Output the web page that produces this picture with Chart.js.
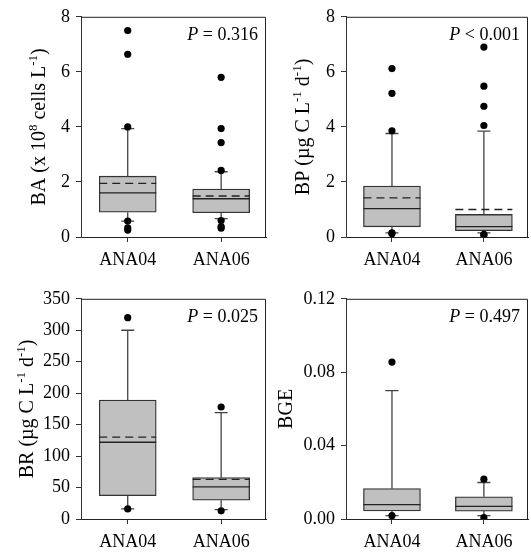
<!DOCTYPE html>
<html>
<head>
<meta charset="utf-8">
<script src="https://cdn.jsdelivr.net/npm/chart.js@4.4.0/dist/chart.umd.min.js"></script>
<style>
  html, body { margin: 0; padding: 0; background: #fff; overflow: hidden; }
  body { width: 531px; height: 555px; position: relative; }
  canvas { position: absolute; }
</style>
</head>
<body>
<canvas id="baChart" width="270" height="274" style="left:0;top:0"></canvas>
<canvas id="bpChart" width="264" height="274" style="left:268px;top:0"></canvas>
<canvas id="brChart" width="270" height="274" style="left:0;top:282px"></canvas>
<canvas id="bgeChart" width="264" height="274" style="left:268px;top:282px"></canvas>
<script>
const grupos = ['ANA04', 'ANA06']

// BA (x 10^8 cells L-1)
const baQ1 = [0.9, 0.88]
const baMediana = [1.6, 1.39]
const baMedia = [1.95, 1.49]
const baQ3 = [2.21, 1.74]
const baMin = [0.58, 0.67]
const baMax = [3.94, 2.37]
const baOutliers = [[7.5, 6.64, 4.0, 0.58, 0.33, 0.25], [5.8, 3.94, 3.43, 2.42, 0.6, 0.38, 0.32]]
const baTicks = [0, 2, 4, 6, 8]

// BP (ug C L-1 d-1)
const bpQ1 = [0.37, 0.23]
const bpMediana = [1.03, 0.38]
const bpMedia = [1.42, 1.0]
const bpQ3 = [1.85, 0.82]
const bpMin = [0.15, 0.15]
const bpMax = [3.76, 3.85]
const bpOutliers = [[6.12, 5.22, 3.86, 0.15, 0.12], [6.9, 5.48, 4.75, 4.05, 0.1, 0.07]]
const bpTicks = [0, 2, 4, 6, 8]

// BR (ug C L-1 d-1)
const brQ1 = [37, 30]
const brMediana = [122, 51]
const brMedia = [130, 63]
const brQ3 = [189, 66]
const brMin = [16, 15]
const brMax = [300, 169]
const brOutliers = [[320, 16], [178, 13]]
const brTicks = [0, 50, 100, 150, 200, 250, 300, 350]

// BGE
const bgeQ1 = [0.0044, 0.0043]
const bgeMediana = [0.0078, 0.0069]
const bgeMedia = [null, null]
const bgeQ3 = [0.0166, 0.0121]
const bgeMin = [0.0018, 0.0018]
const bgeMax = [0.07, 0.0199]
const bgeOutliers = [[0.0855, 0.0018], [0.0217, 0.0008]]
const bgeTicks = [0, 0.04, 0.08, 0.12]
const bgeTickLabels = ['0.00', '0.04', '0.08', '0.12']

const FONTE = "'Liberation Serif', 'Times New Roman', serif"
Chart.defaults.font.family = FONTE
Chart.defaults.font.size = 18
Chart.defaults.color = '#000'

function textoRico(ctx, partes, x, y, tam, alinhar) {
  const fonte = k => k === 's' ? Math.round(tam * 0.65) + 'px ' + FONTE
    : (k === 'i' ? 'italic ' : '') + tam + 'px ' + FONTE
  let total = 0
  partes.forEach(([t, k]) => { ctx.font = fonte(k); total += ctx.measureText(t).width })
  let cx = alinhar === 'right' ? x - total : x - total / 2
  ctx.textAlign = 'left'
  ctx.textBaseline = 'alphabetic'
  partes.forEach(([t, k]) => {
    ctx.font = fonte(k)
    ctx.fillText(t, cx, k === 's' ? y - tam * 0.4 : y)
    cx += ctx.measureText(t).width
  })
}

function criarPainel(id, p) {
  const caixas = p.q1.map((q, i) => ({ x: i, y: [q, p.q3[i]] }))
  const pontos = []
  p.outliers.forEach((lista, i) => lista.forEach(v => pontos.push({ x: i, y: v })))
  const larg = 57

  const desenhoCaixa = {
    id: 'desenhoCaixa',
    beforeDatasetsDraw(chart) {
      const { ctx, scales: { x, y } } = chart
      ctx.save()
      ctx.strokeStyle = '#444'
      ctx.lineWidth = 1.3
      p.q1.forEach((q, i) => {
        const px = x.getPixelForValue(i)
        ctx.beginPath()
        ctx.moveTo(px, y.getPixelForValue(p.q3[i]))
        ctx.lineTo(px, y.getPixelForValue(p.max[i]))
        ctx.moveTo(px - 6.5, y.getPixelForValue(p.max[i]))
        ctx.lineTo(px + 6.5, y.getPixelForValue(p.max[i]))
        ctx.moveTo(px, y.getPixelForValue(q))
        ctx.lineTo(px, y.getPixelForValue(p.min[i]))
        ctx.moveTo(px - 6.5, y.getPixelForValue(p.min[i]))
        ctx.lineTo(px + 6.5, y.getPixelForValue(p.min[i]))
        ctx.stroke()
      })
      ctx.restore()
    },
    afterDatasetDraw(chart, args) {
      if (args.meta.type !== 'bar') return
      const { ctx, scales: { x, y } } = chart
      ctx.save()
      ctx.strokeStyle = '#222'
      ctx.lineWidth = 1.3
      p.mediana.forEach((m, i) => {
        const px = x.getPixelForValue(i)
        const py = y.getPixelForValue(m)
        ctx.setLineDash([])
        ctx.beginPath()
        ctx.moveTo(px - larg / 2, py)
        ctx.lineTo(px + larg / 2, py)
        ctx.stroke()
        if (p.media[i] !== null) {
          const pm = y.getPixelForValue(p.media[i])
          ctx.setLineDash([8, 5])
          ctx.beginPath()
          ctx.moveTo(px - larg / 2, pm)
          ctx.lineTo(px + larg / 2, pm)
          ctx.stroke()
        }
      })
      ctx.restore()
    },
    afterDraw(chart) {
      const { ctx, chartArea: a } = chart
      ctx.save()
      ctx.strokeStyle = '#222'
      ctx.lineWidth = 1
      ctx.beginPath()
      ctx.moveTo(a.left, a.top + 0.5)
      ctx.lineTo(a.right - 0.5, a.top + 0.5)
      ctx.lineTo(a.right - 0.5, a.bottom)
      ctx.stroke()
      ctx.fillStyle = '#000'
      textoRico(ctx, p.pTexto, a.right - 8, a.top + 23, 18, 'right')
      ctx.translate(a.left + p.tituloX, (a.top + a.bottom) / 2)
      ctx.rotate(-Math.PI / 2)
      textoRico(ctx, p.titulo, 0, 0, 20, 'center')
      ctx.restore()
    }
  }

  return new Chart(document.getElementById(id), {
    type: 'bar',
    data: {
      datasets: [
        {
          type: 'bar',
          data: caixas,
          backgroundColor: '#c0c0c0',
          borderColor: '#333',
          borderWidth: 1.3,
          borderSkipped: false,
          barThickness: larg,
          order: 2
        },
        {
          type: 'line',
          data: pontos,
          showLine: false,
          pointRadius: 3.6,
          pointBackgroundColor: '#000',
          pointBorderWidth: 0,
          order: 1
        }
      ]
    },
    options: {
      responsive: false,
      animation: false,
      layout: { padding: { top: 14, right: p.direita, left: 0, bottom: 0 } },
      plugins: { legend: { display: false }, tooltip: { enabled: false } },
      scales: {
        x: {
          type: 'linear',
          min: -0.5,
          max: 1.48,
          offset: false,
          grid: { drawOnChartArea: false, offset: false, tickLength: 5, color: '#333' },
          border: { color: '#222', width: 1 },
          ticks: { padding: 7, maxRotation: 0, callback: v => grupos[v] },
          afterBuildTicks: s => { s.ticks = grupos.map((g, i) => ({ value: i })) },
          afterFit: s => { s.height = 37 }
        },
        y: {
          min: p.ticks[0],
          max: p.ticks[p.ticks.length - 1],
          grid: { drawOnChartArea: false, tickLength: 5, color: '#333' },
          border: { color: '#333', width: 1 },
          ticks: {
            padding: 6,
            callback: (v, i) => p.tickLabels ? p.tickLabels[i] : String(v)
          },
          afterBuildTicks: s => { s.ticks = p.ticks.map(v => ({ value: v })) },
          afterFit: s => { s.width = p.eixoY }
        }
      }
    },
    plugins: [desenhoCaixa]
  })
}

criarPainel('baChart', {
  q1: baQ1, mediana: baMediana, media: baMedia, q3: baQ3, min: baMin, max: baMax,
  outliers: baOutliers, ticks: baTicks,
  eixoY: 81, direita: 4, tituloX: -36.5,
  titulo: [['BA (x 10', 'n'], ['8', 's'], [' cells L', 'n'], ['-1', 's'], [')', 'n']],
  pTexto: [['P', 'i'], [' = 0.316', 'n']]
})

criarPainel('bpChart', {
  q1: bpQ1, mediana: bpMediana, media: bpMedia, q3: bpQ3, min: bpMin, max: bpMax,
  outliers: bpOutliers, ticks: bpTicks,
  eixoY: 78, direita: 0, tituloX: -37,
  titulo: [['BP (\u00b5g C L', 'n'], ['-1', 's'], [' d', 'n'], ['-1', 's'], [')', 'n']],
  pTexto: [['P', 'i'], [' < 0.001', 'n']]
})

criarPainel('brChart', {
  q1: brQ1, mediana: brMediana, media: brMedia, q3: brQ3, min: brMin, max: brMax,
  outliers: brOutliers, ticks: brTicks,
  eixoY: 81, direita: 4, tituloX: -48,
  titulo: [['BR (\u00b5g C L', 'n'], ['-1', 's'], [' d', 'n'], ['-1', 's'], [')', 'n']],
  pTexto: [['P', 'i'], [' = 0.025', 'n']]
})

criarPainel('bgeChart', {
  q1: bgeQ1, mediana: bgeMediana, media: bgeMedia, q3: bgeQ3, min: bgeMin, max: bgeMax,
  outliers: bgeOutliers, ticks: bgeTicks, tickLabels: bgeTickLabels,
  eixoY: 78, direita: 0, tituloX: -54,
  titulo: [['BGE', 'n']],
  pTexto: [['P', 'i'], [' = 0.497', 'n']]
})
</script>
</body>
</html>
